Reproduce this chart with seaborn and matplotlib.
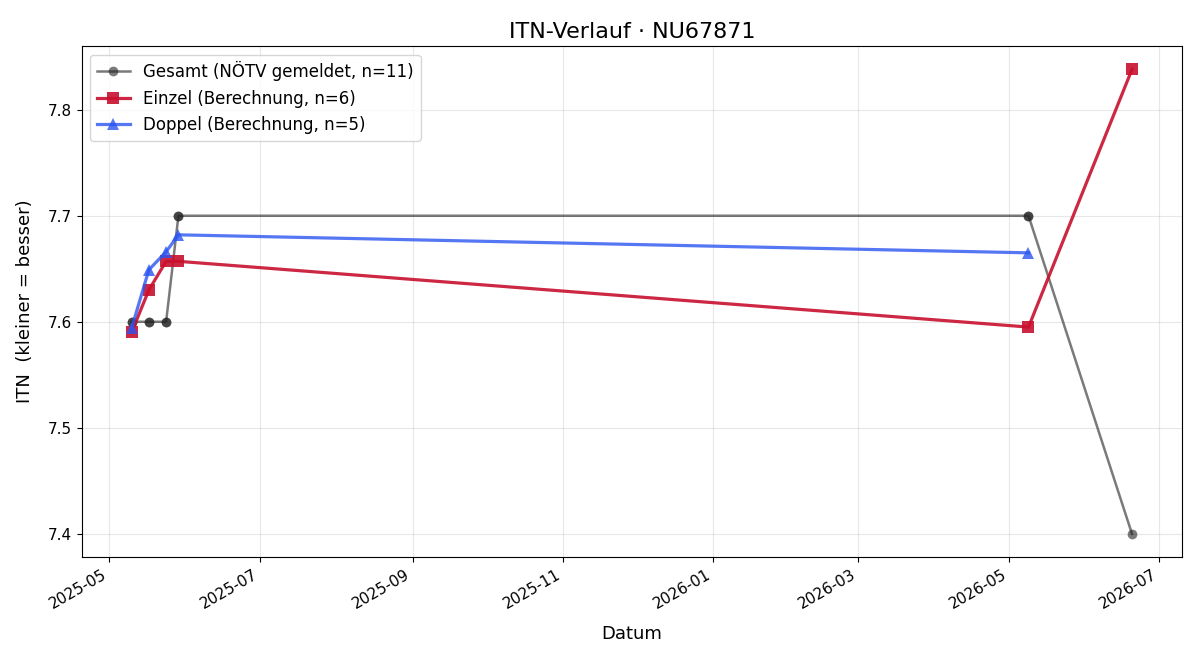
import matplotlib
matplotlib.use("Agg")
import matplotlib.pyplot as plt
import matplotlib.dates as mdates
import seaborn as sns
import pandas as pd

# Data
gesamt_dates = ["2025-05-10", "2025-05-10", "2025-05-17", "2025-05-17", "2025-05-24", "2025-05-24",
                "2025-05-29", "2025-05-29", "2026-05-09", "2026-05-09", "2026-06-20"]
gesamt_vals = [7.6, 7.6, 7.6, 7.6, 7.6, 7.6, 7.7, 7.7, 7.7, 7.7, 7.4]

einzel_dates = ["2025-05-10", "2025-05-17", "2025-05-24", "2025-05-29", "2026-05-09", "2026-06-20"]
einzel_vals = [7.590, 7.630, 7.657, 7.657, 7.595, 7.838]

doppel_dates = ["2025-05-10", "2025-05-17", "2025-05-24", "2025-05-29", "2026-05-09"]
doppel_vals = [7.594, 7.649, 7.666, 7.682, 7.665]

plt.rcParams['font.family'] = ['DejaVu Sans']

fig, ax = plt.subplots(figsize=(12, 6.6), dpi=100)

df_g = pd.DataFrame({"Datum": pd.to_datetime(gesamt_dates), "ITN": gesamt_vals})
df_e = pd.DataFrame({"Datum": pd.to_datetime(einzel_dates), "ITN": einzel_vals})
df_d = pd.DataFrame({"Datum": pd.to_datetime(doppel_dates), "ITN": doppel_vals})

sns.lineplot(data=df_g, x="Datum", y="ITN", ax=ax, estimator=None, sort=False,
             color="#222222", alpha=0.6, linewidth=1.8, marker="o", markersize=7,
             markeredgewidth=0, label="Gesamt (NÖTV gemeldet, n=11)")
sns.lineplot(data=df_e, x="Datum", y="ITN", ax=ax, estimator=None, sort=False,
             color="#c8102e", alpha=0.9, linewidth=2.3, marker="s", markersize=8,
             markeredgewidth=0, label="Einzel (Berechnung, n=6)")
sns.lineplot(data=df_d, x="Datum", y="ITN", ax=ax, estimator=None, sort=False,
             color="#2b55f0", alpha=0.8, linewidth=2.3, marker="^", markersize=8,
             markeredgewidth=0, label="Doppel (Berechnung, n=5)")

ax.set_title("ITN-Verlauf · NU67871", fontsize=16)
ax.set_xlabel("Datum", fontsize=13, labelpad=10)
ax.set_ylabel("ITN  (kleiner = besser)", fontsize=13, labelpad=10)
ax.grid(True, alpha=0.3)
ax.xaxis.set_major_locator(mdates.MonthLocator(bymonth=[1, 3, 5, 7, 9, 11]))
ax.xaxis.set_major_formatter(mdates.DateFormatter("%Y-%m"))
ax.tick_params(axis="both", labelsize=11)
ax.legend(loc="upper left", fontsize=12, frameon=True)
fig.autofmt_xdate()
fig.subplots_adjust(left=0.068, right=0.985, top=0.930, bottom=0.156)
fig.savefig("out.png", dpi=100)
